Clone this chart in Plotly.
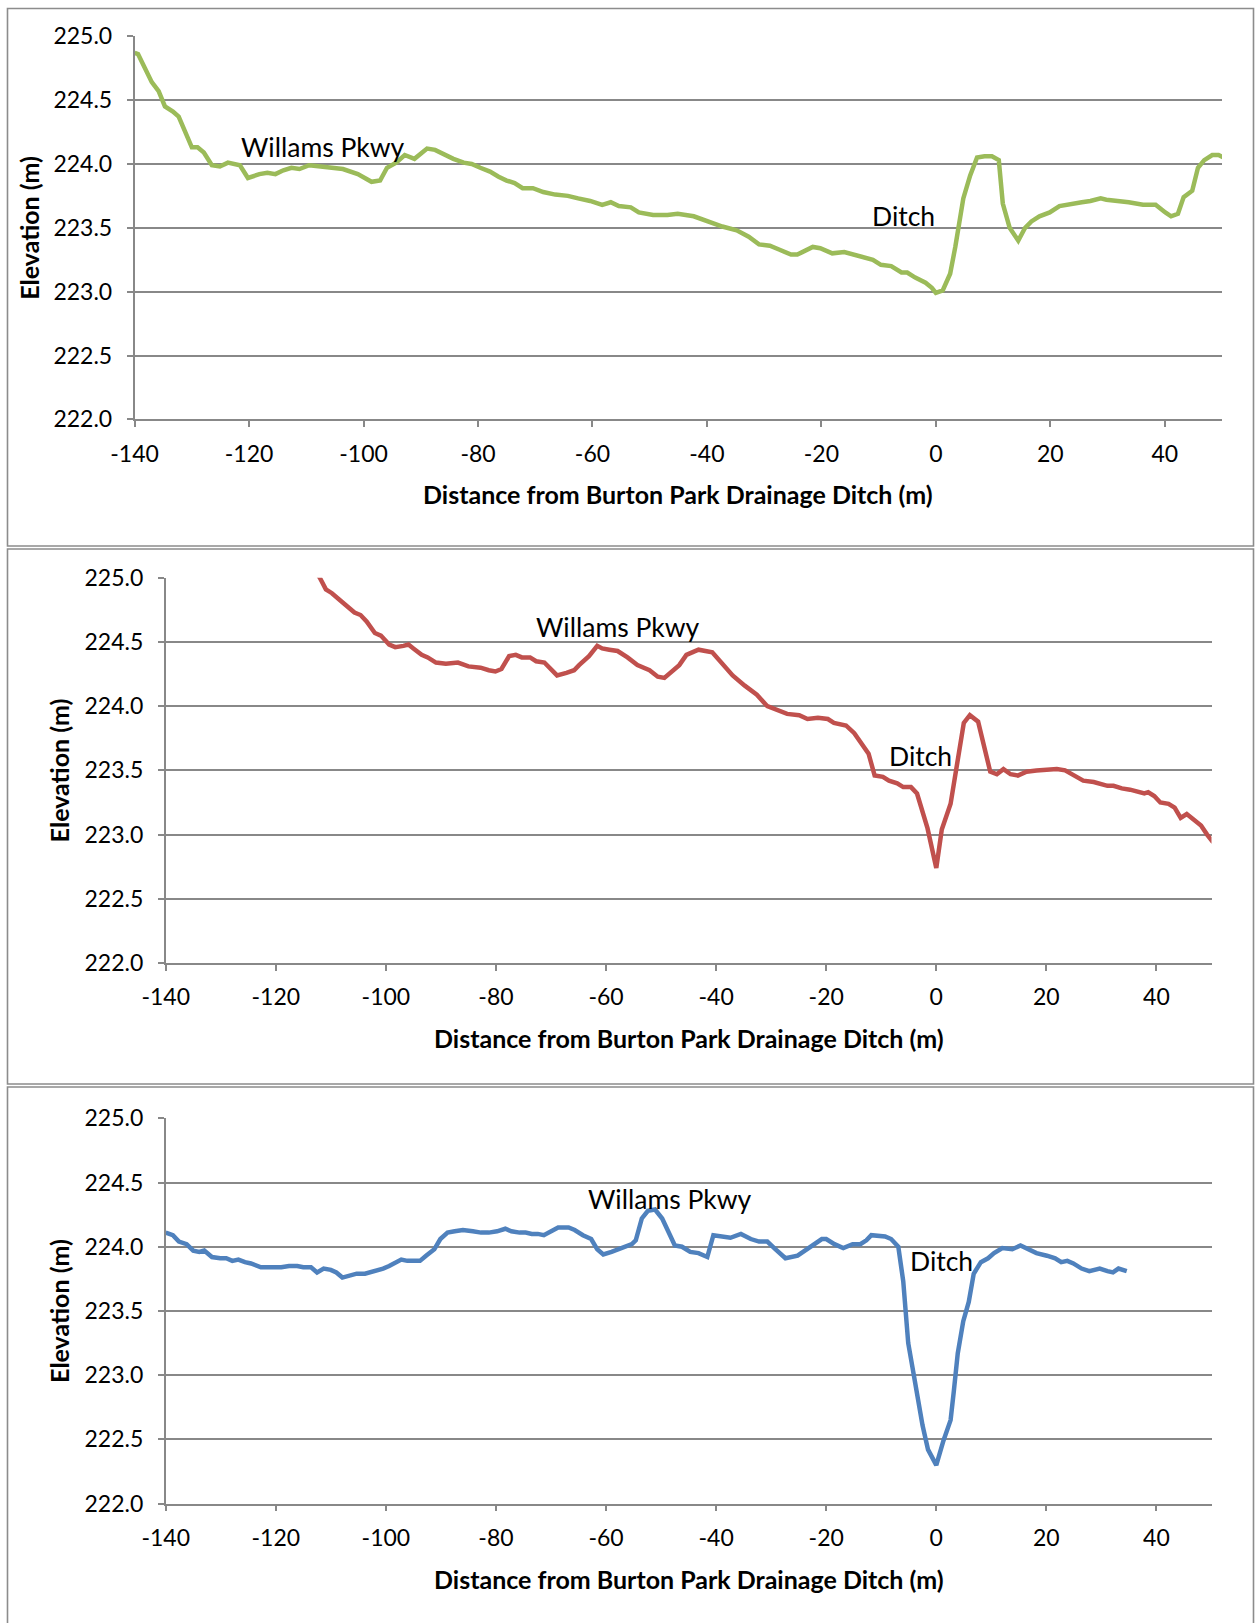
import plotly.graph_objects as go

W, H = 1255, 1623

# ---------------- data ----------------
x_tick_vals = [-140, -120, -100, -80, -60, -40, -20, 0, 20, 40]
y_tick_vals = [222.0, 222.5, 223.0, 223.5, 224.0, 224.5, 225.0]

# Panel 1 (green)
dist_1 = [-140, -139.4, -137, -135.8, -134.7, -133.3, -132.3, -130, -129, -127.9,
          -126.5, -125.1, -123.7, -121.6, -120.2, -118.2, -116.8, -115.4, -114, -112.6,
          -111.2, -109.5, -107.5, -105.7, -103.6, -101, -99.3, -98.6, -97.1, -95.9,
          -94.3, -92.8, -91.1, -88.9, -87.5, -85.3, -84.3, -82.5, -81.1, -79.6,
          -77.9, -76.4, -75, -73.6, -72.2, -70.4, -68.6, -66.5, -64.3, -62.5,
          -60.4, -58.3, -56.8, -55.4, -53.3, -51.9, -49.4, -46.9, -45.1, -42.3,
          -40.5, -38.4, -37.3, -34.8, -32.7, -30.9, -29, -27.4, -25.3, -24.2,
          -21.5, -20.2, -18.1, -16, -14.2, -12.8, -11, -9.6, -7.8, -6,
          -5, -3.6, -1.8, -0.7, 0, 1.2, 2.5, 3.4, 4.1, 4.8,
          6, 7.2, 8.5, 9.8, 11, 11.7, 12.9, 14.4, 15.6, 16.7,
          18.1, 19.9, 21.6, 23.4, 25.5, 27, 28.8, 29.8, 32, 33.7,
          36.2, 38.4, 40.1, 41.1, 42.3, 43.3, 44.8, 45.8, 46.9, 48.3,
          49.4, 50.3]
elev_1 = [224.87, 224.86, 224.64, 224.57, 224.45, 224.41, 224.37, 224.13, 224.13, 224.09,
          223.99, 223.98, 224.01, 223.99, 223.89, 223.92, 223.93, 223.92, 223.95, 223.97,
          223.96, 223.99, 223.98, 223.97, 223.96, 223.92, 223.88, 223.86, 223.87, 223.97,
          224.01, 224.07, 224.04, 224.12, 224.11, 224.06, 224.04, 224.01, 224.00, 223.97,
          223.94, 223.90, 223.87, 223.85, 223.81, 223.81, 223.78, 223.76, 223.75, 223.73,
          223.71, 223.68, 223.70, 223.67, 223.66, 223.62, 223.60, 223.60, 223.61, 223.59,
          223.56, 223.52, 223.51, 223.48, 223.43, 223.37, 223.36, 223.33, 223.29, 223.29,
          223.35, 223.34, 223.30, 223.31, 223.29, 223.27, 223.25, 223.21, 223.20, 223.15,
          223.15, 223.11, 223.07, 223.03, 222.99, 223.01, 223.14, 223.35, 223.55, 223.73,
          223.91, 224.05, 224.06, 224.06, 224.03, 223.69, 223.50, 223.40, 223.50, 223.55,
          223.59, 223.62, 223.67, 223.68, 223.70, 223.71, 223.73, 223.72, 223.71, 223.70,
          223.68, 223.68, 223.62, 223.59, 223.61, 223.74, 223.79, 223.97, 224.03, 224.07,
          224.07, 224.05]

# Panel 2 (red)
dist_2 = [-113.5, -112, -110.9, -109.8, -107.9, -105.7, -104.6, -103.5, -102, -100.9,
          -99.4, -98.3, -96.8, -95.9, -95, -93.5, -92.4, -90.9, -89.1, -86.9,
          -85, -82.8, -81.3, -80.1, -79, -77.6, -76.4, -75.3, -73.8, -72.7,
          -71.2, -70.1, -68.9, -67.2, -65.8, -64.9, -63.1, -61.6, -60.7, -59.4,
          -57.9, -56.1, -54.3, -52.1, -50.6, -49.4, -46.7, -45.4, -43.2, -40.7,
          -38.8, -37, -34.8, -32.6, -30.7, -28.9, -27.1, -24.9, -23.4, -21.5,
          -19.7, -18.6, -16.4, -14.9, -13.4, -12.3, -11.2, -9.7, -8.6, -7.1,
          -6, -4.6, -3.5, -1.6, 0, 1, 2.6, 3.9, 5, 6.1,
          7.6, 9.8, 11, 12.2, 13.5, 14.8, 16.4, 18.2, 20.5, 21.9,
          23.4, 24.9, 26.7, 28.6, 30, 31.1, 32.2, 33.7, 35.2, 36.3,
          37.8, 38.5, 39.6, 40.7, 42.2, 43.3, 44.4, 45.5, 46.6, 48.1,
          49.2, 50.3]
elev_2 = [225.10, 225.00, 224.91, 224.88, 224.81, 224.73, 224.71, 224.66, 224.57, 224.55,
          224.48, 224.46, 224.47, 224.48, 224.45, 224.40, 224.38, 224.34, 224.33, 224.34,
          224.31, 224.30, 224.28, 224.27, 224.29, 224.39, 224.40, 224.38, 224.38, 224.35,
          224.34, 224.29, 224.24, 224.26, 224.28, 224.32, 224.39, 224.47, 224.45, 224.44,
          224.43, 224.38, 224.32, 224.28, 224.23, 224.22, 224.32, 224.40, 224.44, 224.42,
          224.33, 224.24, 224.16, 224.09, 224.00, 223.97, 223.94, 223.93, 223.90, 223.91,
          223.90, 223.87, 223.85, 223.79, 223.69, 223.63, 223.46, 223.45, 223.42, 223.40,
          223.37, 223.37, 223.32, 223.05, 222.74, 223.04, 223.24, 223.60, 223.87, 223.93,
          223.88, 223.49, 223.47, 223.51, 223.47, 223.46, 223.49, 223.50, 223.51, 223.51,
          223.50, 223.46, 223.42, 223.41, 223.39, 223.38, 223.38, 223.36, 223.35, 223.34,
          223.32, 223.33, 223.30, 223.25, 223.24, 223.21, 223.13, 223.16, 223.12, 223.07,
          223.00, 222.94]

# Panel 3 (blue)
dist_3 = [-140, -138.7, -137.6, -136.2, -135, -133.9, -133, -131.6, -130.1, -129,
          -127.9, -126.8, -125.6, -124.5, -122.7, -120.9, -119, -117.6, -116.1, -115,
          -113.6, -112.5, -111.3, -110, -109, -107.9, -106.8, -105.3, -103.8, -102,
          -100.5, -99.4, -98.3, -97.2, -96.1, -93.8, -92.7, -91.2, -90.1, -88.8,
          -87.5, -86, -84.2, -82.7, -81.3, -79.8, -78.3, -77.2, -75.7, -74.6,
          -73.5, -72.4, -71.3, -69.8, -68.7, -66.8, -65.7, -64.2, -62.7, -61.6,
          -60.5, -59, -57.9, -56.4, -55.3, -54.6, -53.5, -52.4, -51.1, -49.8,
          -48.7, -47.5, -46.2, -44.7, -43.2, -41.6, -40.5, -38.8, -37.4, -35.5,
          -33.7, -32.2, -30.7, -29.2, -27.4, -25.2, -23, -20.8, -20, -18.5,
          -16.9, -15.2, -13.8, -12.7, -11.8, -10.4, -9.3, -8.2, -6.9, -6,
          -5.1, -4.2, -3.3, -2.5, -1.5, 0, 1.3, 2.6, 3.2, 3.9,
          4.9, 5.9, 6.8, 8.1, 9.4, 10.5, 12, 13.8, 15.3, 16.8,
          18.2, 20.1, 21.6, 22.7, 23.8, 24.9, 26.4, 27.8, 29.7, 31.1,
          32.1, 33.1, 34.6]
elev_3 = [224.11, 224.09, 224.04, 224.02, 223.97, 223.96, 223.97, 223.92, 223.91, 223.91,
          223.89, 223.90, 223.88, 223.87, 223.84, 223.84, 223.84, 223.85, 223.85, 223.84,
          223.84, 223.80, 223.83, 223.82, 223.80, 223.76, 223.77, 223.79, 223.79, 223.81,
          223.83, 223.85, 223.88, 223.90, 223.89, 223.89, 223.93, 223.98, 224.06, 224.11,
          224.12, 224.13, 224.12, 224.11, 224.11, 224.12, 224.14, 224.12, 224.11, 224.11,
          224.10, 224.10, 224.09, 224.13, 224.15, 224.15, 224.13, 224.09, 224.06, 223.98,
          223.94, 223.96, 223.98, 224.00, 224.02, 224.05, 224.22, 224.28, 224.29, 224.22,
          224.12, 224.01, 224.00, 223.96, 223.95, 223.92, 224.09, 224.08, 224.07, 224.10,
          224.06, 224.04, 224.04, 223.98, 223.91, 223.93, 224.00, 224.06, 224.06, 224.02,
          223.99, 224.02, 224.02, 224.05, 224.09, 224.08, 224.08, 224.06, 224.00, 223.73,
          223.25, 223.03, 222.79, 222.61, 222.42, 222.30, 222.49, 222.65, 222.88, 223.17,
          223.42, 223.57, 223.79, 223.88, 223.91, 223.95, 223.99, 223.98, 224.01, 223.98,
          223.95, 223.93, 223.91, 223.88, 223.89, 223.87, 223.83, 223.81, 223.83, 223.81,
          223.80, 223.83, 223.81]

road_label = "Willams Pkwy"
ditch_label = "Ditch"
x_title = "Distance from Burton Park Drainage Ditch (m)"
y_title = "Elevation (m)"

# ---------------- layout helpers ----------------
def px_x(p):
    return p / W

def px_y(p):
    return 1 - p / H

FONT = "Lato, 'Open Sans', sans-serif"
GRID = "#888888"

# plot-area pixel boxes: (left, right, top, bottom)
boxes = [
    (134.6, 1222.0, 36.2, 419.4),
    (165.7, 1211.5, 577.8, 963.0),
    (165.7, 1211.5, 1118.3, 1503.6),
]
series = [
    (dist_1, elev_1, "#9BBB59"),
    (dist_2, elev_2, "#C0504D"),
    (dist_3, elev_3, "#4F81BD"),
]
label_pos = [
    ((-107.1, 224.13), (-5.65, 223.59)),
    ((-57.9, 224.62), (-2.9, 223.61)),
    ((-48.3, 224.37), (0.9, 223.89)),
]
ytitle_x = [29, 59, 59]

fig = go.Figure()
annotations = []
shapes = []

for i, ((l, r, t, b), (xs, ys, col), (road, ditch)) in enumerate(zip(boxes, series, label_pos)):
    n = "" if i == 0 else str(i + 1)
    fig.add_trace(go.Scatter(
        x=xs, y=ys, mode="lines",
        line=dict(color=col, width=4.5, shape="linear"),
        xaxis="x" + n, yaxis="y" + n, showlegend=False,
        hoverinfo="x+y",
    ))
    axis_common = dict(
        showline=True, linecolor=GRID, linewidth=1.6,
        ticks="outside", ticklen=6, tickwidth=1.6, tickcolor=GRID,
        tickfont=dict(family=FONT, size=23, color="black"),
        zeroline=False, fixedrange=True, automargin=False,
    )
    fig.update_layout(**{
        "xaxis" + n: dict(
            domain=[px_x(l), px_x(r)], anchor="y" + n,
            range=[-140, 50], tickvals=x_tick_vals,
            ticktext=[str(v) for v in x_tick_vals],
            showgrid=False, ticklabelstandoff=7, **axis_common),
        "yaxis" + n: dict(
            domain=[px_y(b), px_y(t)], anchor="x" + n,
            range=[222, 225], tickvals=y_tick_vals,
            ticktext=["%.1f" % v for v in y_tick_vals],
            showgrid=True, gridcolor=GRID, gridwidth=1.6,
            ticklabelstandoff=10, **axis_common),
    })
    xr = "x" + n
    yr = "y" + n
    common_ann = dict(showarrow=False, xanchor="center", yanchor="middle")
    annotations.append(dict(x=road[0], y=road[1], xref=xr, yref=yr, text=road_label,
                            font=dict(family=FONT, size=26.5, color="black"), **common_ann))
    annotations.append(dict(x=ditch[0], y=ditch[1], xref=xr, yref=yr, text=ditch_label,
                            font=dict(family=FONT, size=26.5, color="black"), **common_ann))
    # axis titles
    annotations.append(dict(x=px_x((l + r) / 2), y=px_y(b + 75), xref="paper", yref="paper",
                            text="<b>" + x_title + "</b>",
                            font=dict(family=FONT, size=25, color="black"), **common_ann))
    annotations.append(dict(x=px_x(ytitle_x[i]), y=px_y((t + b) / 2), xref="paper", yref="paper",
                            text="<b>" + y_title + "</b>", textangle=-90,
                            font=dict(family=FONT, size=25, color="black"), **common_ann))

# chart-area borders
for (y0, y1) in [(8.5, 546), (549, 1084), (1087, 1630)]:
    shapes.append(dict(type="rect", xref="paper", yref="paper",
                       x0=px_x(7.5), x1=px_x(1253.5), y0=px_y(y1), y1=px_y(y0),
                       line=dict(color="#8c8c8c", width=1.6), fillcolor="rgba(0,0,0,0)",
                       layer="below"))

fig.update_layout(
    width=W, height=H,
    margin=dict(l=0, r=0, t=0, b=0, pad=0, autoexpand=False),
    paper_bgcolor="white", plot_bgcolor="white",
    annotations=annotations, shapes=shapes,
    font=dict(family=FONT, color="black"),
)

fig.write_html("out.html",
               config={"displayModeBar": False},
               post_script="document.body.style.margin='0px';document.body.style.padding='0px';")
